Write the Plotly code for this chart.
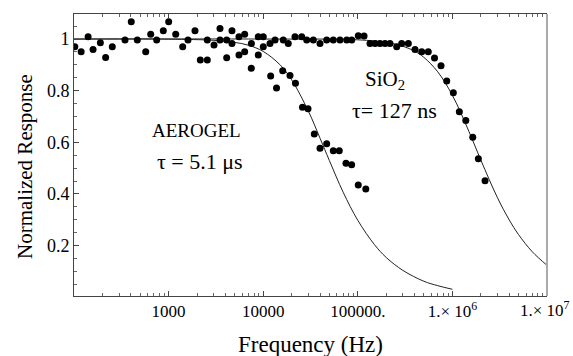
import plotly.graph_objects as go

# ---- measured data points (Hz, normalized response) ----
aerogel_f = [102, 119, 141, 159, 190, 216, 254, 346, 403, 467, 573, 647, 748, 879,
             1002, 1189, 1409, 1603, 1901, 2163, 2565, 2565, 3020, 3493, 3493, 4111,
             4111, 4677, 4677, 5546, 5546, 6371, 6371, 7482, 7500, 8872, 8872, 10020,
             10020, 11800, 11990, 13830, 16080, 19200, 21940, 26020, 29760, 34680,
             39850, 46900, 55080, 63700, 74990, 86100, 101100, 121500]
aerogel_r = [0.970, 0.951, 1.009, 0.960, 0.986, 0.929, 0.970, 0.996, 1.067, 0.996,
             0.951, 1.019, 0.996, 1.032, 1.067, 1.019, 0.970, 0.996, 1.032, 0.919,
             0.919, 0.996, 0.977, 1.041, 0.996, 0.928, 0.996, 1.032, 0.983, 0.938,
             1.009, 0.951, 1.019, 0.887, 0.983, 1.009, 0.938, 1.009, 0.970, 0.983,
             0.857, 0.810, 0.877, 0.859, 0.829, 0.736, 0.730, 0.632, 0.577, 0.595,
             0.567, 0.567, 0.519, 0.513, 0.435, 0.419]

sio2_f = [13340, 16300, 18400, 21670, 25520, 28820, 33870, 39850, 46900, 55080,
          64830, 76330, 86280, 101200, 116400, 134600, 152000, 171700, 194000,
          218900, 257800, 291200, 342000, 402600, 473500, 556000, 647000, 758000,
          871000, 1023000, 1184000, 1386000, 1641000, 1881000, 2213000]
sio2_r = [0.996, 0.996, 0.983, 1.009, 1.009, 0.996, 0.996, 0.983, 0.996, 0.996,
          0.996, 0.996, 0.996, 1.013, 1.012, 0.983, 0.983, 0.983, 0.983, 0.983,
          0.970, 0.983, 0.983, 0.960, 0.951, 0.951, 0.927, 0.897, 0.838, 0.792,
          0.718, 0.685, 0.620, 0.536, 0.451]

# ---- fitted curves ----
aerogel_fit_f = [100, 1000, 3000, 5000, 7000, 10000, 15000, 20000, 30000, 40000,
                 50000, 70000, 100000, 150000, 200000, 300000, 500000, 700000, 1000000]
aerogel_fit_r = [1.0, 0.9995, 0.995, 0.987, 0.976, 0.952, 0.901, 0.842, 0.721, 0.615,
                 0.530, 0.407, 0.298, 0.204, 0.154, 0.104, 0.062, 0.045, 0.031]

sio2_fit_f = [100, 10000, 100000, 200000, 300000, 400000, 500000, 700000, 1000000,
              1500000, 2000000, 3000000, 4000000, 5000000, 7000000, 10000000]
sio2_fit_r = [1.0, 1.0, 0.997, 0.987, 0.972, 0.953, 0.929, 0.873, 0.782, 0.641,
              0.531, 0.385, 0.299, 0.243, 0.176, 0.124]

x_tickvals = [1000, 10000, 100000, 1000000, 10000000]
x_ticktext = ["1000", "10000", "100000.", "1.× 10<sup>6</sup>", ""]
last_x_label = "1.× 10<sup>7</sup>"
y_tickvals = [0.2, 0.4, 0.6, 0.8, 1.0]
y_ticktext = ["0.2", "0.4", "0.6", "0.8", "1"]
x_title = "Frequency (Hz)"
y_title = "Normalized Response"

FONT = "Liberation Serif"

fig = go.Figure()
fig.add_trace(go.Scatter(x=aerogel_fit_f, y=aerogel_fit_r, mode="lines",
                         line=dict(color="#222", width=1, shape="spline"), hoverinfo="skip"))
fig.add_trace(go.Scatter(x=sio2_fit_f, y=sio2_fit_r, mode="lines",
                         line=dict(color="#222", width=1, shape="spline"), hoverinfo="skip"))
fig.add_trace(go.Scatter(x=aerogel_f, y=aerogel_r, mode="markers",
                         marker=dict(color="black", size=7)))
fig.add_trace(go.Scatter(x=sio2_f, y=sio2_r, mode="markers",
                         marker=dict(color="black", size=7)))

minor_x = [m * 10 ** d for d in range(2, 7) for m in range(2, 10)]

fig.update_xaxes(type="log", range=[2, 7], tickmode="array", tickvals=x_tickvals,
                 ticktext=x_ticktext, ticks="inside", ticklen=5, tickcolor="#444",
                 showline=True, linecolor="#444", linewidth=1, mirror="ticks",
                 showgrid=False, zeroline=False, automargin=False,
                 minor=dict(tickvals=minor_x, ticks="inside", ticklen=3, tickcolor="#666",
                            showgrid=False),
                 tickfont=dict(family=FONT, size=17, color="black"))
fig.update_yaxes(range=[0.005, 1.097], tickmode="array", tickvals=y_tickvals,
                 ticktext=y_ticktext, ticks="inside", ticklen=5, tickcolor="#444",
                 showline=True, linecolor="#444", linewidth=1,
                 showgrid=False, zeroline=False, automargin=False,
                 minor=dict(dtick=0.05, tick0=0, ticks="inside", ticklen=3, tickcolor="#666",
                            showgrid=False),
                 tickfont=dict(family=FONT, size=18, color="black"))

# right frame edge (gray)
fig.add_shape(type="line", xref="paper", yref="paper", x0=1, x1=1, y0=0, y1=1,
              line=dict(color="#aaa", width=2))

# axis titles
fig.add_annotation(xref="paper", yref="paper", x=(310 - 74) / 473, y=-(344 - 296) / 282,
                   xanchor="center", yanchor="middle", text=x_title, showarrow=False,
                   font=dict(family=FONT, size=23, color="black"))
fig.add_annotation(xref="paper", yref="paper", x=-(74 - 25) / 473, y=(296 - 167) / 282,
                   xanchor="center", yanchor="middle", text=y_title, showarrow=False,
                   textangle=-90, font=dict(family=FONT, size=21, color="black"))

# last x tick label, kept inside the page
fig.add_annotation(xref="paper", yref="paper", x=(572 - 74) / 473, y=-0.045, xanchor="right",
                   yanchor="middle", text=last_x_label, showarrow=False,
                   font=dict(family=FONT, size=17, color="black"))

fig.add_annotation(x=3.29, y=0.644, text="AEROGEL", showarrow=False,
                   font=dict(family=FONT, size=19, color="black"))
fig.add_annotation(x=3.33, y=0.524, text="τ = 5.1 μs", showarrow=False,
                   font=dict(family=FONT, size=22, color="black"))
fig.add_annotation(x=5.29, y=0.841, text="SiO<sub>2</sub>", showarrow=False,
                   font=dict(family=FONT, size=21, color="black"))
fig.add_annotation(x=5.39, y=0.725, text="τ= 127 ns", showarrow=False,
                   font=dict(family=FONT, size=22, color="black"))

fig.update_layout(width=573, height=356, margin=dict(l=74, r=26, t=14, b=60),
                  plot_bgcolor="white", paper_bgcolor="white", showlegend=False)

fig.write_html("out.html", config={"displayModeBar": False},
               post_script="document.body.style.margin='0px';")
